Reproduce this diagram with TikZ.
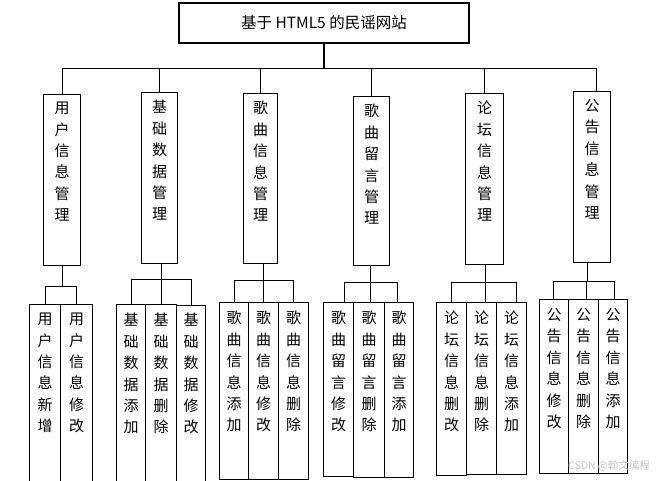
\documentclass[tikz,border=0pt]{standalone}
\usepackage{fontspec}
\setmainfont{Noto Sans CJK SC}
\usetikzlibrary{positioning}
\tikzset{
    site/.style={rectangle, draw=black, line width=1.1pt, minimum width=290pt, minimum height=40pt, inner sep=0pt, font=\fontsize{15.5}{18}\selectfont},
    mgr/.style={rectangle, draw=black, line width=1.1pt, anchor=north west, inner sep=0pt},
    leaf/.style={rectangle, draw=black, line width=1.1pt, anchor=north west, inner sep=0pt},
    vtext/.style={align=center, inner sep=0pt, font=\fontsize{15}{21.4}\selectfont},
    link/.style={line width=1.1pt}
}

\begin{document}
\begin{tikzpicture}[x=1pt, y=-1pt]
    \useasboundingbox (0,0) rectangle (665,480);

    % --- Root ---
    \node (site) [site] at (324,23) {基于 HTML5 的民谣网站};

    % --- Modules ---
    \node (m1) [mgr, minimum width=37pt, minimum height=171pt] at (43,94) {};
    \node (m2) [mgr, minimum width=36pt, minimum height=171pt] at (141,92) {};
    \node (m3) [mgr, minimum width=34pt, minimum height=170pt] at (243,93) {};
    \node (m4) [mgr, minimum width=36pt, minimum height=169pt] at (353,96) {};
    \node (m5) [mgr, minimum width=38pt, minimum height=171pt] at (465,93) {};
    \node (m6) [mgr, minimum width=37pt, minimum height=171pt] at (573,91) {};

    \node (m1t) [vtext, below=8pt of m1.north] {用\\户\\信\\息\\管\\理};
    \node (m2t) [vtext, below=8pt of m2.north] {基\\础\\数\\据\\管\\理};
    \node (m3t) [vtext, below=8pt of m3.north] {歌\\曲\\信\\息\\管\\理};
    \node (m4t) [vtext, below=8pt of m4.north] {歌\\曲\\留\\言\\管\\理};
    \node (m5t) [vtext, below=8pt of m5.north] {论\\坛\\信\\息\\管\\理};
    \node (m6t) [vtext, below=8pt of m6.north] {公\\告\\信\\息\\管\\理};

    % --- Functions ---
    \node (u1) [leaf, minimum width=31pt, minimum height=180pt] at (29,304) {};
    \node (u2) [leaf, minimum width=32pt, minimum height=180pt] at (60,304) {};
    \node (b1) [leaf, minimum width=29pt, minimum height=180pt] at (116,304) {};
    \node (b2) [leaf, minimum width=31pt, minimum height=180pt] at (145,304) {};
    \node (b3) [leaf, minimum width=29pt, minimum height=179pt] at (176,305) {};
    \node (s1) [leaf, minimum width=29pt, minimum height=177pt] at (219,302) {};
    \node (s2) [leaf, minimum width=30pt, minimum height=177pt] at (248,302) {};
    \node (s3) [leaf, minimum width=30pt, minimum height=177pt] at (278,302) {};
    \node (c1) [leaf, minimum width=30pt, minimum height=174pt] at (323,302) {};
    \node (c2) [leaf, minimum width=31pt, minimum height=175pt] at (353,302) {};
    \node (c3) [leaf, minimum width=29pt, minimum height=175pt] at (384,302) {};
    \node (f1) [leaf, minimum width=30pt, minimum height=173pt] at (436,302) {};
    \node (f2) [leaf, minimum width=30pt, minimum height=172pt] at (466,302) {};
    \node (f3) [leaf, minimum width=30pt, minimum height=172pt] at (496,302) {};
    \node (n1) [leaf, minimum width=29pt, minimum height=174pt] at (539,299) {};
    \node (n2) [leaf, minimum width=30pt, minimum height=174pt] at (568,299) {};
    \node (n3) [leaf, minimum width=29pt, minimum height=174pt] at (598,299) {};

    \node (u1t) [vtext, below=9pt of u1.north] {用\\户\\信\\息\\新\\增};
    \node (u2t) [vtext, below=9pt of u2.north] {用\\户\\信\\息\\修\\改};
    \node (b1t) [vtext, below=9pt of b1.north] {基\\础\\数\\据\\添\\加};
    \node (b2t) [vtext, below=9pt of b2.north] {基\\础\\数\\据\\删\\除};
    \node (b3t) [vtext, below=8pt of b3.north] {基\\础\\数\\据\\修\\改};
    \node (s1t) [vtext, below=9pt of s1.north] {歌\\曲\\信\\息\\添\\加};
    \node (s2t) [vtext, below=9pt of s2.north] {歌\\曲\\信\\息\\修\\改};
    \node (s3t) [vtext, below=9pt of s3.north] {歌\\曲\\信\\息\\删\\除};
    \node (c1t) [vtext, below=9pt of c1.north] {歌\\曲\\留\\言\\修\\改};
    \node (c2t) [vtext, below=9pt of c2.north] {歌\\曲\\留\\言\\删\\除};
    \node (c3t) [vtext, below=9pt of c3.north] {歌\\曲\\留\\言\\添\\加};
    \node (f1t) [vtext, below=9pt of f1.north] {论\\坛\\信\\息\\删\\改};
    \node (f2t) [vtext, below=9pt of f2.north] {论\\坛\\信\\息\\删\\除};
    \node (f3t) [vtext, below=9pt of f3.north] {论\\坛\\信\\息\\添\\加};
    \node (n1t) [vtext, below=9pt of n1.north] {公\\告\\信\\息\\修\\改};
    \node (n2t) [vtext, below=9pt of n2.north] {公\\告\\信\\息\\删\\除};
    \node (n3t) [vtext, below=9pt of n3.north] {公\\告\\信\\息\\添\\加};

    % --- Links ---
    \draw [link] (site.south) -- ++(0,25) coordinate (bus);
    \draw [link] (m1.north) |- (bus);
    \draw [link] (m2.north) |- (bus);
    \draw [link] (m3.north) |- (bus);
    \draw [link] (m4.north) |- (bus);
    \draw [link] (m5.north) |- (bus);
    \draw [link] ([xshift=4pt]m6.north) |- (bus);

    \draw [link] (m1.south) -- ++(0,20) coordinate (j1);
    \draw [link] (u1.north) |- (j1);
    \draw [link] (u2.north) |- (j1);

    \draw [link] ([xshift=2pt]m2.south) -- ++(0,15) coordinate (j2);
    \draw [link] (b1.north) |- (j2);
    \draw [link] (b2.north) |- (j2);
    \draw [link] (b3.north) |- (j2);

    \draw [link] ([xshift=3pt]m3.south) -- ++(0,16) coordinate (j3);
    \draw [link] (s1.north) |- (j3);
    \draw [link] (s2.north) |- (j3);
    \draw [link] (s3.north) |- (j3);

    \draw [link] ([xshift=-1pt]m4.south) -- ++(0,16) coordinate (j4);
    \draw [link] ([xshift=6pt]c1.north) |- (j4);
    \draw [link] ([xshift=1pt]c2.north) |- (j4);
    \draw [link] ([xshift=-2pt]c3.north) |- (j4);

    \draw [link] ([xshift=1pt]m5.south) -- ++(0,17) coordinate (j5);
    \draw [link] (f1.north) |- (j5);
    \draw [link] ([xshift=4pt]f2.north) |- (j5);
    \draw [link] ([xshift=5pt]f3.north) |- (j5);

    \draw [link] ([xshift=-5pt]m6.south) -- ++(0,18) coordinate (j6);
    \draw [link] ([xshift=-1pt]n1.north) |- (j6);
    \draw [link] ([xshift=3pt]n2.north) |- (j6);
    \draw [link] ([xshift=1pt]n3.north) |- (j6);

    % --- Watermark ---
    \node (mark) [font=\fontsize{10.5}{12}\selectfont, text=gray!45] at (609,466) {CSDN @翰文编程};
\end{tikzpicture}
\end{document}
